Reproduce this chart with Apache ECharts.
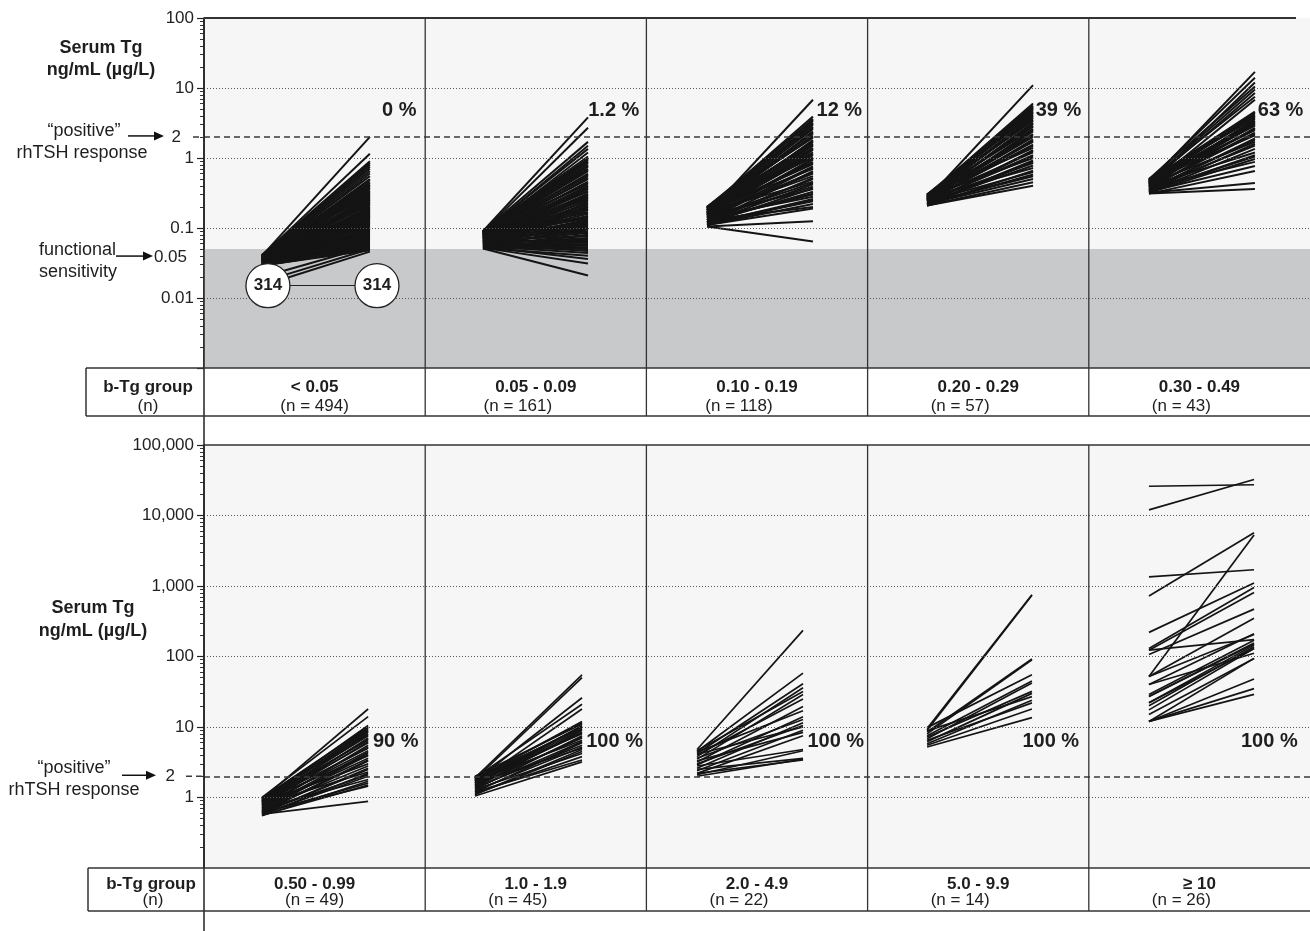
<!DOCTYPE html>
<html><head><meta charset="utf-8">
<script src="https://cdn.jsdelivr.net/npm/echarts@6/dist/echarts.min.js"></script>
<style>html,body{margin:0;padding:0;background:#fff}#c{width:1310px;height:931px}</style>
</head><body><div id="c"></div>
<script>
// ---------------- DATA ----------------
const topGroups = ['< 0.05', '0.05 - 0.09', '0.10 - 0.19', '0.20 - 0.29', '0.30 - 0.49'];
const topN = [494, 161, 118, 57, 43];
const topPct = ['0 %', '1.2 %', '12 %', '39 %', '63 %'];
const botGroups = ['0.50 - 0.99', '1.0 - 1.9', '2.0 - 4.9', '5.0 - 9.9', '\u2265 10'];
const botN = [49, 45, 22, 14, 26];
const botPct = ['90 %', '100 %', '100 %', '100 %', '100 %'];

const topTicks = [0.01, 0.1, 1, 10, 100];
const topRefTicks = [0.05, 2];
const botTicks = [1, 10, 100, 1000, 10000, 100000];
const botRefTicks = [2];
const positiveResponse = 2;        // ng/mL
const functionalSensitivity = 0.05; // ng/mL
const undetectableCount = 314;
const undetectableLevel = 0.015;

// basal (b-Tg) and rhTSH-stimulated Tg, ng/mL, one pair per patient line
const t1Basal = [0.04,0.04,0.041,0.039,0.04,0.038,0.041,0.039,0.037,0.04,
  0.038,0.036,0.04,0.039,0.037,0.035,0.04,0.038,0.036,0.039,
  0.034,0.037,0.04,0.035,0.038,0.033,0.036,0.039,0.034,0.037,
  0.032,0.035,0.038,0.033,0.036,0.031,0.034,0.037,0.032,0.035,
  0.03,0.033,0.036,0.031,0.034,0.03,0.032,0.035,0.03,0.033,
  0.031,0.034,0.029,0.032,0.03,0.033,0.029,0.031,0.03,0.032,
  0.029,0.031,0.03,0.029,0.031,0.029,0.03,0.029,0.02,0.017,0.015,
  0.039,0.037,0.036,0.034,0.038,0.033,0.035,0.032,0.037,0.031,
  0.034,0.03,0.036,0.033,0.029,0.035,0.031,0.033,0.03,0.032,
  0.029,0.031,0.03,0.032,0.029,0.03,0.031,0.029];
const t1Stim = [2.0,1.15,0.9,0.85,0.8,0.75,0.7,0.65,0.6,0.55,
  0.5,0.48,0.45,0.42,0.4,0.38,0.36,0.34,0.32,0.3,
  0.28,0.27,0.26,0.25,0.24,0.23,0.22,0.21,0.2,0.19,
  0.18,0.17,0.165,0.16,0.155,0.15,0.145,0.14,0.135,0.13,
  0.125,0.12,0.115,0.11,0.105,0.1,0.097,0.094,0.09,0.087,
  0.084,0.081,0.078,0.075,0.072,0.07,0.068,0.066,0.064,0.062,
  0.06,0.058,0.056,0.054,0.052,0.05,0.049,0.048,0.055,0.05,0.046,
  0.44,0.41,0.37,0.33,0.31,0.29,0.255,0.235,0.215,0.195,
  0.185,0.175,0.16,0.15,0.14,0.128,0.118,0.108,0.1,0.092,
  0.085,0.079,0.073,0.067,0.061,0.057,0.053,0.051];
const t2Basal = [0.09,0.088,0.09,0.085,0.088,0.082,0.09,0.086,0.08,0.088,
  0.084,0.078,0.09,0.082,0.076,0.086,0.08,0.074,0.088,0.078,
  0.072,0.084,0.076,0.07,0.082,0.074,0.068,0.08,0.072,0.066,
  0.078,0.07,0.064,0.076,0.068,0.062,0.074,0.066,0.06,0.072,
  0.064,0.058,0.07,0.062,0.056,0.068,0.06,0.055,0.065,0.058,
  0.054,0.062,0.056,0.053,0.058,0.055,0.052,0.054,0.052,0.051,
  0.089,0.087,0.085,0.083,0.081,0.079,0.077,0.075,0.073,0.071,
  0.069,0.067,0.065,0.063,0.061,0.059,0.057,0.089,0.084,0.079,
  0.074,0.069,0.064,0.059,0.056,0.054,0.053,0.052,0.051];
const t2Stim = [3.8,2.7,1.7,1.5,1.35,1.2,1.05,0.95,0.9,0.85,
  0.8,0.75,0.7,0.65,0.6,0.55,0.5,0.46,0.42,0.39,
  0.36,0.33,0.3,0.28,0.26,0.24,0.22,0.2,0.19,0.18,
  0.17,0.16,0.15,0.14,0.13,0.125,0.12,0.115,0.11,0.105,
  0.1,0.095,0.09,0.085,0.08,0.076,0.072,0.068,0.065,0.062,
  0.059,0.056,0.053,0.05,0.047,0.044,0.04,0.036,0.031,0.021,
  0.98,0.88,0.78,0.68,0.58,0.52,0.44,0.4,0.37,0.34,
  0.31,0.29,0.27,0.25,0.23,0.21,0.185,0.165,0.145,0.135,
  0.122,0.108,0.098,0.088,0.078,0.07,0.063,0.057,0.052];
const t3Basal = [0.16,0.19,0.18,0.2,0.17,0.19,0.2,0.18,0.16,0.19,
  0.17,0.2,0.15,0.18,0.19,0.16,0.17,0.14,0.18,0.15,
  0.19,0.13,0.16,0.17,0.14,0.18,0.12,0.15,0.16,0.13,
  0.17,0.12,0.14,0.15,0.12,0.13,0.14,0.115,0.12,0.11,
  0.13,0.11,0.105,0.105,
  0.19,0.18,0.2,0.17,0.19,0.16,0.18,0.15,0.17,0.14,
  0.16,0.13,0.15,0.12,0.14,0.115,0.13,0.11];
const t3Stim = [6.8,3.9,3.6,3.4,3.2,3.0,2.8,2.6,2.4,2.25,
  2.1,1.95,1.8,1.7,1.6,1.5,1.4,1.3,1.2,1.1,
  1.02,0.95,0.88,0.82,0.76,0.7,0.65,0.6,0.55,0.5,
  0.46,0.42,0.39,0.36,0.33,0.3,0.28,0.26,0.24,0.22,
  0.2,0.19,0.125,0.064,
  3.5,3.1,2.7,2.3,2.0,1.75,1.55,1.35,1.15,0.98,
  0.85,0.73,0.62,0.52,0.44,0.37,0.31,0.25];
const t4Basal = [0.26,0.29,0.28,0.3,0.27,0.29,0.26,0.28,0.3,0.25,
  0.27,0.29,0.24,0.28,0.26,0.23,0.27,0.25,0.29,0.22,
  0.26,0.24,0.28,0.22,0.25,0.23,0.27,0.21,0.24,0.22,
  0.23,0.22,0.21,0.21,
  0.29,0.28,0.27,0.3,0.26,0.28,0.25,0.27,0.24,0.26,0.23,0.25,0.22,0.24,0.21];
const t4Stim = [11,6.0,5.6,5.2,4.8,4.4,4.0,3.7,3.4,3.1,
  2.8,2.6,2.4,2.2,2.0,1.85,1.7,1.55,1.4,1.3,
  1.2,1.1,1.0,0.92,0.85,0.78,0.72,0.66,0.63,0.58,
  0.55,0.5,0.45,0.4,
  5.4,5.0,4.6,4.2,3.8,3.5,3.2,2.9,2.5,2.1,1.75,1.5,1.25,1.05,0.88];
const t5Basal = [0.45,0.48,0.42,0.5,0.46,0.44,0.48,0.4,0.47,0.43,
  0.5,0.38,0.45,0.41,0.48,0.36,0.44,0.39,0.46,0.35,
  0.42,0.37,0.33,0.4,0.34,0.32,0.38,0.33,0.31,0.32,0.31,
  0.47,0.44,0.49,0.42,0.46,0.4,0.43,0.38,0.36,0.34,0.33];
const t5Stim = [17,14,12,10.5,9.5,8.5,7.5,6.8,4.6,4.2,
  3.9,3.6,3.3,3.1,2.9,2.7,2.5,2.3,2.1,1.9,
  1.7,1.5,1.35,1.2,1.05,0.97,0.88,0.77,0.65,0.44,0.36,
  4.4,4.0,3.7,3.4,3.2,3.0,2.6,2.2,1.8,1.6,1.1];

const b1Basal = [0.95,1.0,0.9,0.98,0.85,0.93,0.8,0.96,0.88,0.75,
  0.92,0.82,0.7,0.87,0.78,0.66,0.9,0.72,0.62,0.84,
  0.68,0.6,0.8,0.64,0.58,0.7,0.6,0.56,0.62,0.58,
  0.97,0.9,0.86,0.82,0.78,0.74,0.7,0.66,0.64,0.6,0.57,0.55];
const b1Stim = [18,14,10.5,10,9.5,9,8.5,8,7.5,7,
  6.5,6,5.5,5,4.6,4.2,3.9,3.6,3.3,3.0,
  2.8,2.5,2.3,2.1,2.0,1.8,1.6,1.5,1.45,0.88,
  9.8,8.8,7.8,6.8,6.2,5.2,4.4,4.0,3.4,2.6,2.2,1.7];
const b2Basal = [1.9,1.8,1.7,1.9,1.6,1.8,2.0,1.5,1.7,1.9,1.4,1.6,1.8,1.3,1.5,1.7,1.2,1.4,1.6,1.1,1.3,1.15,1.2,1.05,
  1.85,1.75,1.65,1.55,1.45,1.35,1.25,1.1];
const b2Stim = [55,50,26,21,18,12,11,10.5,10,9.5,9,8.5,8,7.5,7,6.5,6,5.5,5,4.5,4.2,3.8,3.4,3.2,
  11.5,10.2,9.2,8.2,7.2,6.2,5.2,4.8];
const b3Basal = [4.8,4.5,4.2,3.8,4.6,3.5,4.0,3.2,4.4,2.9,3.6,2.6,3.0,4.1,2.4,3.3,2.2,2.8,2.1,2.5,2.0,2.2];
const b3Stim = [235,58,41,36,32,29,25,19.5,17,14,12.8,11.5,10.5,10,9,8.4,7.5,4.8,4.6,3.6,3.5,3.4];
const b4Basal = [9.5,9.0,8.5,8.0,9.8,7.5,6.8,7.2,6.2,8.8,5.8,6.5,5.5,5.2];
const b4Stim = [750,740,92,90,55,45,42,32,30,27,24,22,18,13.6];
const b5Basal = [26000,12000,1350,720,52,220,130,123,107,52,40,52,123,29,27,22,20,17.5,15,12,12,12,12,22,27,40];
const b5Stim = [27300,32400,1700,5700,5300,1100,950,810,470,350,210,205,174,170,155,145,137,130,94,94,48,35,29,130,150,111];

// ---------------- LAYOUT (positions within each column, 0..1) ----------------
const LAY = {
  topStart: [0.262, 0.261, 0.274, 0.269, 0.272],
  topEnd:   [0.750, 0.736, 0.753, 0.748, 0.751],
  botStart: [0.262, 0.225, 0.229, 0.269, 0.272],
  botEnd:   [0.742, 0.709, 0.708, 0.743, 0.747],
  topPctX:  [0.805, 0.737, 0.769, 0.760, 0.764],
  botPctX:  [0.764, 0.728, 0.728, 0.700, 0.688],
  topPctY: 4.8, botPctY: 6.2,
  circleX: [0.289, 0.782],
  nShift: [0, 18, 18, 18, 18]
};

const topBasal = [t1Basal, t2Basal, t3Basal, t4Basal, t5Basal];
const topStim = [t1Stim, t2Stim, t3Stim, t4Stim, t5Stim];
const botBasal = [b1Basal, b2Basal, b3Basal, b4Basal, b5Basal];
const botStim = [b1Stim, b2Stim, b3Stim, b4Stim, b5Stim];

const FONT = '"Liberation Sans", Arial, Helvetica, sans-serif';
const INK = '#1e1e1e';

function pairLines(basals, stims, starts, ends) {
  const out = [];
  basals.forEach((arr, k) => arr.forEach((b, i) => {
    out.push({ coords: [[k + starts[k], b], [k + ends[k], stims[k][i]]] });
  }));
  return out;
}
function decadesBetween(lo, hi) { const r = []; for (let e = lo; e <= hi; e++) r.push(Math.pow(10, e)); return r; }
function minorTicks(lo, hi) {
  const r = [];
  for (let e = lo; e < hi; e++) for (let m = 2; m <= 9; m++) r.push(+(m * Math.pow(10, e)).toPrecision(6));
  return r;
}
function fmtNum(v) {
  const n = +(+v).toPrecision(6);
  return n.toLocaleString('en-US', { maximumFractionDigits: 3 });
}
const lblBase = { fontSize: 17, color: '#222', fontFamily: FONT };

function majorAxis(gridIndex, min, max, ticks, labelVals, rich, fmt) {
  return {
    type: 'log', logBase: 10, gridIndex, min, max, position: 'left',
    axisLine: { show: true, onZero: false, lineStyle: { color: '#222', width: 1.5 } },
    axisTick: { show: true, length: 7, customValues: ticks, lineStyle: { color: '#222', width: 1.2 } },
    axisLabel: { show: true, margin: 10, customValues: labelVals, formatter: fmt, rich },
    splitLine: { show: false }, minorTick: { show: false }
  };
}
function minorAxis(gridIndex, min, max, vals) {
  return {
    type: 'log', logBase: 10, gridIndex, min, max, position: 'left',
    axisLine: { show: false },
    axisTick: { show: true, length: 4, customValues: vals, lineStyle: { color: '#333', width: 1 } },
    axisLabel: { show: false }, splitLine: { show: false }
  };
}

const topFmt = v => {
  const n = +(+v).toPrecision(6);
  if (n === positiveResponse) return '{p|2}';
  if (n === functionalSensitivity) return '{f|0.05}';
  return '{d|' + fmtNum(n) + '}';
};
const botFmt = v => {
  const n = +(+v).toPrecision(6);
  if (n === positiveResponse) return '{p|2}';
  return '{d|' + fmtNum(n) + '}';
};

const gridLineStyle = { type: [1, 2], color: '#5a5a5a', width: 1 };
const dashStyle = { type: [6, 4], color: '#3a3a3a', width: 1.5 };

const option = {
  animation: false,
  backgroundColor: '#ffffff',
  grid: [
    { left: 204, top: 18, width: 1106, height: 350, show: true, backgroundColor: '#f6f6f6', borderWidth: 0 },
    { left: 204, top: 445, width: 1106, height: 423, show: true, backgroundColor: '#f6f6f6', borderWidth: 0 }
  ],
  xAxis: [
    { type: 'value', gridIndex: 0, min: 0, max: 5, show: false },
    { type: 'value', gridIndex: 1, min: 0, max: 5, show: false }
  ],
  yAxis: [
    majorAxis(0, 0.001, 100, decadesBetween(-3, 2), topTicks.concat(topRefTicks),
      { d: lblBase, p: Object.assign({}, lblBase, { padding: [0, 13, 0, 0] }), f: Object.assign({}, lblBase, { padding: [16, 7, 0, 0] }) }, topFmt),
    minorAxis(0, 0.001, 100, minorTicks(-3, 2)),
    majorAxis(1, 0.1, 100000, botTicks, botTicks.concat(botRefTicks),
      { d: lblBase, p: Object.assign({}, lblBase, { padding: [0, 19, 0, 0] }) }, botFmt),
    minorAxis(1, 0.1, 100000, minorTicks(-1, 5))
  ],
  series: [
    { // top panel references
      type: 'line', xAxisIndex: 0, yAxisIndex: 0, data: [], z: 1, silent: true,
      markArea: { silent: true, itemStyle: { color: '#c8c9cb' }, data: [[{ yAxis: 0.001 }, { yAxis: functionalSensitivity }]] },
      markLine: { silent: true, symbol: 'none', label: { show: false }, lineStyle: gridLineStyle,
        data: topTicks.filter(v => v < 100).map(v => ({ yAxis: v })).concat([{ yAxis: positiveResponse, lineStyle: dashStyle }]) }
    },
    { // bottom panel references
      type: 'line', xAxisIndex: 1, yAxisIndex: 2, data: [], z: 1, silent: true,
      markLine: { silent: true, symbol: 'none', label: { show: false }, lineStyle: gridLineStyle,
        data: botTicks.filter(v => v < 100000).map(v => ({ yAxis: v })).concat([{ yAxis: positiveResponse, lineStyle: dashStyle }]) }
    },
    { // connector between the two "314" circles
      type: 'lines', coordinateSystem: 'cartesian2d', xAxisIndex: 0, yAxisIndex: 0, z: 3, silent: true,
      lineStyle: { color: '#222', width: 1.2, opacity: 1 },
      data: [{ coords: [[LAY.circleX[0], undetectableLevel], [LAY.circleX[1], undetectableLevel]] }]
    },
    {
      type: 'lines', coordinateSystem: 'cartesian2d', xAxisIndex: 0, yAxisIndex: 0, z: 4, silent: true,
      lineStyle: { color: '#141414', width: 2.0, opacity: 1 },
      data: pairLines(topBasal, topStim, LAY.topStart, LAY.topEnd)
    },
    {
      type: 'lines', coordinateSystem: 'cartesian2d', xAxisIndex: 1, yAxisIndex: 2, z: 4, silent: true,
      lineStyle: { color: '#141414', width: 1.7, opacity: 1 },
      data: pairLines(botBasal, botStim, LAY.botStart, LAY.botEnd)
    },
    {
      type: 'scatter', xAxisIndex: 0, yAxisIndex: 0, z: 6, silent: true,
      symbol: 'circle', symbolSize: 44,
      itemStyle: { color: '#ffffff', borderColor: '#222', borderWidth: 1.3, opacity: 1 },
      label: { show: true, position: 'inside', formatter: () => String(undetectableCount), fontWeight: 'bold', fontSize: 17, color: INK, fontFamily: FONT },
      data: LAY.circleX.map(x => [x, undetectableLevel])
    }
  ]
};

const chart = echarts.init(document.getElementById('c'), null, { renderer: 'canvas' });
chart.setOption(option);

// ---------------- annotations / table rows ----------------
const px = (xi, v) => chart.convertToPixel({ xAxisIndex: xi }, v);
const py = (yi, v) => chart.convertToPixel({ yAxisIndex: yi }, v);
const G = [];
const ln = (x1, y1, x2, y2, w, c, dash) => G.push({ type: 'line', silent: true, z: 20,
  shape: { x1, y1, x2, y2 }, style: { stroke: c || '#2a2a2a', lineWidth: w || 1.5, lineDash: dash || null } });
const tx = (t, x, y, font, align) => G.push({ type: 'text', silent: true, z: 21, x, y,
  style: { text: t, font, fill: INK, align: align || 'center', verticalAlign: 'middle',
    textAlign: align || 'center', textVerticalAlign: 'middle' } });
const arrow = (x1, x2, y) => {
  ln(x1, y, x2 - 6, y, 1.5, '#111');
  G.push({ type: 'polygon', silent: true, z: 21, shape: { points: [[x2 - 10, y - 4.5], [x2, y], [x2 - 10, y + 4.5]] }, style: { fill: '#111' } });
};
const B = 'bold 17px ' + FONT, R = '17px ' + FONT, BB = 'bold 18px ' + FONT, RR = '18px ' + FONT, P = 'bold 20px ' + FONT;

const left = px(0, 0), right = px(0, 5);
const tTop = py(0, 100), tBot = py(0, 0.001);
const bTop = py(2, 100000), bBot = py(2, 0.1);
const rowT = 48, rowB = 43;

// axis line running through both panels
ln(left, tTop, left, 931, 1.5, '#222');
// panel top borders
ln(left, tTop, 1296, tTop, 2, '#333');
ln(left, bTop, right, bTop, 1.5, '#333');
// column separators
for (let k = 1; k < 5; k++) {
  ln(px(0, k), tTop, px(0, k), tBot + rowT, 1.3, '#333');
  ln(px(1, k), bTop, px(1, k), bBot + rowB, 1.3, '#333');
}
// table rows
ln(86, tBot, right, tBot, 1.5, '#333'); ln(86, tBot + rowT, right, tBot + rowT, 1.5, '#333'); ln(86, tBot, 86, tBot + rowT, 1.5, '#333');
ln(88, bBot, right, bBot, 1.5, '#333'); ln(88, bBot + rowB, right, bBot + rowB, 1.5, '#333'); ln(88, bBot, 88, bBot + rowB, 1.5, '#333');
tx('b-Tg group', 148, tBot + 19, B); tx('(n)', 148, tBot + 38, R);
tx('b-Tg group', 151, bBot + 16, B); tx('(n)', 153, bBot + 32, R);
for (let k = 0; k < 5; k++) {
  const ct = px(0, k + 0.5), cb = px(1, k + 0.5);
  tx(topGroups[k], ct, tBot + 19, B);
  tx('(n = ' + topN[k] + ')', ct - LAY.nShift[k], tBot + 38, R);
  tx(botGroups[k], cb, bBot + 16, B);
  tx('(n = ' + botN[k] + ')', cb - LAY.nShift[k], bBot + 32, R);
  tx(topPct[k], px(0, k + LAY.topPctX[k]), py(0, LAY.topPctY), P, 'left');
  tx(botPct[k], px(1, k + LAY.botPctX[k]), py(2, LAY.botPctY), P, 'left');
}
// left-hand annotations
tx('Serum Tg', 101, 48, BB); tx('ng/mL (\u00b5g/L)', 101, 70, BB);
tx('Serum Tg', 93, 608, BB); tx('ng/mL (\u00b5g/L)', 93, 631, BB);
const y2t = py(0, positiveResponse), y2b = py(2, positiveResponse), yfs = py(0, functionalSensitivity);
tx('\u201cpositive\u201d', 84, y2t - 6, RR); tx('rhTSH response', 82, y2t + 16, RR); arrow(128, 164, y2t - 1);
tx('\u201cpositive\u201d', 74, y2b - 8, RR); tx('rhTSH response', 74, y2b + 14, RR); arrow(122, 156, y2b - 1);
tx('functional', 39, yfs + 1, RR, 'left'); tx('sensitivity', 39, yfs + 23, RR, 'left'); arrow(116, 153, yfs + 7);
// dashed reference stubs left of the axis
ln(193, y2t, left, y2t, 1.5, '#3a3a3a', [6, 4]);
ln(186, y2b, left, y2b, 1.5, '#3a3a3a', [6, 4]);

chart.setOption({ graphic: G });
</script></body></html>
